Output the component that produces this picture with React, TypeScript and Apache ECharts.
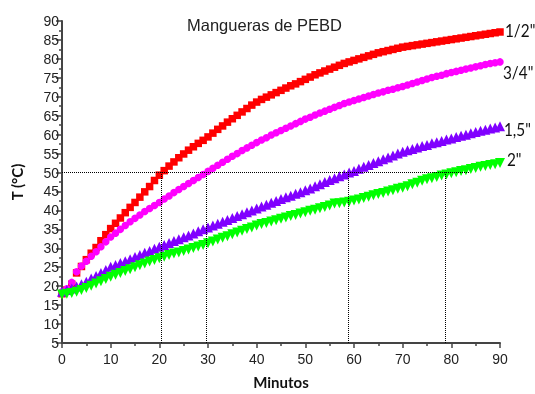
import React, { useEffect, useRef } from "react";
import * as echarts from "echarts";

const minutes = [0,1,2,3,4,5,6,7,8,9,10,11,12,13,14,15,16,17,18,19,20,21,22,23,24,25,26,27,28,29,30,31,32,33,34,35,36,37,38,39,40,41,42,43,44,45,46,47,48,49,50,51,52,53,54,55,56,57,58,59,60,61,62,63,64,65,66,67,68,69,70,71,72,73,74,75,76,77,78,79,80,81,82,83,84,85,86,87,88,89,90];

const half = [18,19,20.5,23.5,25.2,27,28.7,30.2,32,33.6,35.2,36.6,38,39.4,40.8,42.1,43.5,44.9,46.3,47.9,49.3,50.5,51.7,52.8,53.9,54.9,55.9,56.8,57.7,58.5,59.4,60.4,61.4,62.3,63.3,64.2,65.1,66,66.9,67.8,68.6,69.3,69.9,70.5,71.1,71.7,72.3,72.9,73.4,74,74.6,75.2,75.8,76.3,76.8,77.3,77.8,78.3,78.8,79.2,79.6,80,80.4,80.8,81.2,81.6,81.9,82.2,82.5,82.8,83.1,83.3,83.5,83.7,83.9,84.1,84.3,84.5,84.7,84.9,85.1,85.3,85.5,85.7,85.9,86.1,86.3,86.5,86.7,86.9,87.1];

const threeQuarter = [18.5,19.3,21,23.8,25.3,26.6,27.9,29.1,30.4,31.7,33,34,35,36,37,37.9,38.8,39.7,40.5,41.3,42.1,43,43.8,44.7,45.5,46.3,47.1,47.9,48.7,49.5,50.3,51.1,51.9,52.7,53.5,54.3,55,55.8,56.5,57.2,57.9,58.6,59.2,59.9,60.5,61.1,61.7,62.3,62.9,63.5,64.1,64.6,65.2,65.7,66.2,66.7,67.2,67.7,68.2,68.6,69,69.4,69.8,70.2,70.6,71,71.3,71.7,72,72.4,72.7,73.1,73.5,73.9,74.3,74.7,75.1,75.4,75.7,76.1,76.4,76.7,77,77.3,77.6,77.9,78.2,78.5,78.8,79,79.2];

const oneHalf = [18.5,19,19.4,19.9,20.5,21.2,22,22.7,23.5,24.3,25.1,25.6,26.1,26.6,27.1,27.7,28.2,28.8,29.3,29.9,30.4,30.9,31.4,31.9,32.4,32.9,33.4,33.9,34.5,35,35.5,36,36.5,37,37.5,38,38.5,39,39.5,40,40.5,41,41.5,42,42.5,43,43.5,43.9,44.4,44.8,45.3,45.8,46.4,46.9,47.5,48,48.5,49,49.5,50,50.4,51,51.5,52,52.5,53,53.5,54,54.5,55,55.5,55.9,56.2,56.6,57,57.3,57.7,58,58.3,58.7,59,59.4,59.7,60,60.4,60.7,61,61.3,61.6,61.9,62.2];

const two = [17.8,18,18.2,18.5,19,19.5,20.1,20.7,21.3,21.9,22.5,23,23.5,24,24.5,25,25.5,26,26.5,26.9,27.4,27.8,28.2,28.6,28.9,29.3,29.7,30.1,30.5,30.9,31.3,31.8,32.3,32.8,33.2,33.7,34.2,34.6,35.1,35.5,36,36.4,36.7,37.1,37.4,37.8,38.1,38.5,38.8,39.2,39.5,39.9,40.2,40.6,40.9,41.3,41.8,41.9,42.1,42.3,42.6,42.9,43.3,43.6,44,44.3,44.6,45,45.3,45.7,46,46.4,46.9,47.3,47.8,48.2,48.5,48.8,49.2,49.5,49.8,50.1,50.4,50.6,50.9,51.2,51.5,51.7,52,52.2,52.5];

const seriesNames = ['1/2"', '3/4"', '1,5"', '2"'];
const targetTemp = 50;
const crossTimes = [20.3, 29.6, 58.8, 78.8];
const refLineEnd = 83.8;

export default function App() {
  const ref = useRef<HTMLDivElement>(null);
  useEffect(() => {
    if (!ref.current) return;
    const chart = echarts.init(ref.current, null, { renderer: "svg" });
    const pts = (arr: number[]) => minutes.map((m, i) => [m, arr[i]]);
    const scatter = (name: string, data: number[], symbol: string, color: string, size: number) => ({
      name,
      type: "scatter",
      data: pts(data),
      symbol,
      symbolSize: size,
      itemStyle: { color, opacity: 1 },
      emphasis: { disabled: true },
    });
    const dotted = { color: "#000", width: 1, type: "dotted" as const };
    const markData: any[] = [
      [{ coord: [0, targetTemp] }, { coord: [refLineEnd, targetTemp] }],
      ...crossTimes.map((t) => [{ coord: [t, 5] }, { coord: [t, targetTemp] }]),
    ];
    const labelStyle = { fontFamily: "Lato", fontSize: 18, fill: "#111", verticalAlign: "middle" };
    const labelPos = [[505, 31], [503, 73], [504, 130], [507, 160]];
    chart.setOption({
      animation: false,
      grid: { left: 62, right: 35, top: 21, bottom: 46 },
      title: {
        text: "Mangueras de PEBD",
        left: 182,
        top: 11,
        textStyle: { fontFamily: "Liberation Sans", fontSize: 16.5, fontWeight: "normal", color: "#222" },
      },
      xAxis: {
        type: "value",
        min: 0,
        max: 90,
        interval: 10,
        name: "Minutos",
        nameLocation: "middle",
        nameGap: 31,
        nameTextStyle: { fontFamily: "Lato", fontWeight: "bold", fontSize: 15, color: "#111" },
        axisLine: { lineStyle: { color: "#444", width: 2 } },
        axisTick: { length: 5, lineStyle: { color: "#444", width: 1.5 } },
        minorTick: { show: true, splitNumber: 2, length: 3, lineStyle: { color: "#444", width: 1.5 } },
        axisLabel: { fontFamily: "Liberation Sans", fontSize: 14, color: "#222", margin: 9 },
        splitLine: { show: false },
      },
      yAxis: {
        type: "value",
        min: 5,
        max: 90,
        interval: 5,
        name: "T (°C)",
        nameLocation: "middle",
        nameGap: 38,
        nameTextStyle: { fontFamily: "Lato", fontWeight: "bold", fontSize: 15, color: "#111" },
        axisLine: { show: true, lineStyle: { color: "#444", width: 2 } },
        axisTick: { show: true, length: 6, lineStyle: { color: "#444", width: 1.5 } },
        minorTick: { show: true, splitNumber: 2, length: 3, lineStyle: { color: "#444", width: 1.5 } },
        axisLabel: { fontFamily: "Liberation Sans", fontSize: 14, color: "#222", margin: 3 },
        splitLine: { show: false },
      },
      series: [
        {
          ...scatter(seriesNames[0], half, "rect", "#ff0000", 7.5),
          markLine: {
            silent: true,
            symbol: "none",
            label: { show: false },
            lineStyle: dotted,
            data: markData,
          },
        },
        scatter(seriesNames[1], threeQuarter, "circle", "#ff00ff", 7.5),
        scatter(seriesNames[2], oneHalf, "triangle", "#8000ff", 10),
        { ...scatter(seriesNames[3], two, "triangle", "#00ff00", 10), symbolRotate: 180 },
      ],
      graphic: seriesNames.map((n, i) => ({
        type: "text",
        x: labelPos[i][0],
        y: labelPos[i][1],
        scaleX: 0.85,
        style: { ...labelStyle, text: n },
      })),
    });
    return () => chart.dispose();
  }, []);
  return <div ref={ref} style={{ position: "fixed", left: 0, top: 0, width: 535, height: 394 }} />;
}
